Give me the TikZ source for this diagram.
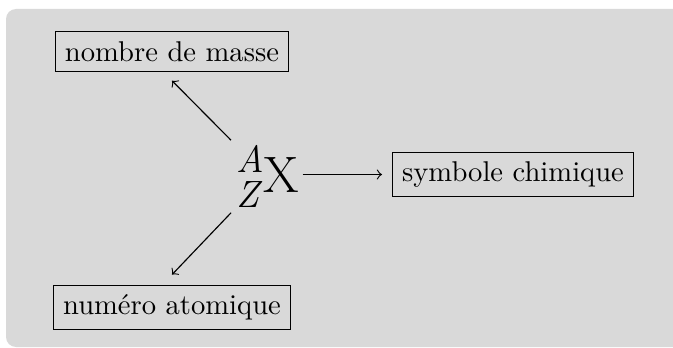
\documentclass[tikz,border=0pt]{standalone}
\usetikzlibrary{calc}
\begin{document}
\begin{tikzpicture}[x=0.3497pt,y=-0.3497pt,
  lbl/.style={draw,line width=0.4pt,inner sep=0.3333em,font=\normalsize},
  arr/.style={->,line width=0.4pt}]
\useasboundingbox (0,0) rectangle (673,348);
\begin{scope}
\clip (0,0) rectangle (673,348);
\fill[black!15, rounded corners=3.5pt] (6,9) rectangle (700,347);
\end{scope}
\node[lbl] (nm) at (172,51.5) {nombre de masse};
\node[lbl] (na) at (172,307.5) {numéro atomique};
\node[lbl] (sc) at (513,174.5) {symbole chimique};
\node[inner sep=0pt, anchor=base west] (c) at (236,193)
  {\fontsize{13.3}{16}\selectfont\itshape\rlap{\raisebox{7pt}{A}}\raisebox{-4.9pt}{Z}\hspace{1.5pt}{\fontsize{17.9}{20}\selectfont\upshape X}};
\draw[arr, shorten <=2.5pt] (c.north west) -- ($(nm.south)+(0,9)$);
\draw[arr, shorten <=2.5pt] (c.south west) -- ($(na.north)+(0,-10)$);
\draw[arr, shorten <=1pt, shorten >=3.5pt] (c.east |- sc.west) -- (sc.west);
\end{tikzpicture}
\end{document}
